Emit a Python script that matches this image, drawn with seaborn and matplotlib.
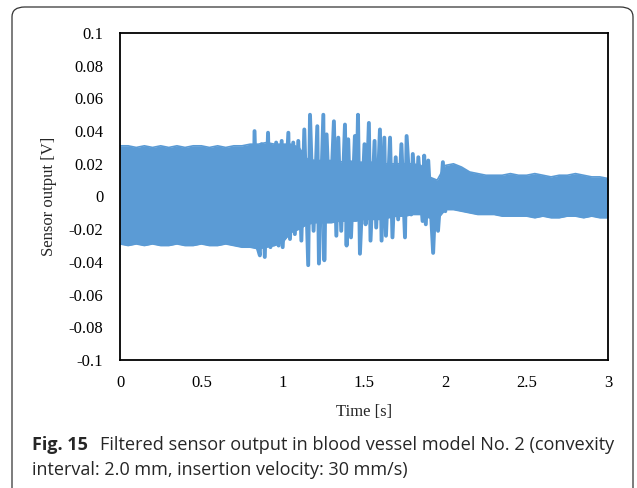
import numpy as np
import pandas as pd
import matplotlib
matplotlib.use("Agg")
import matplotlib.pyplot as plt
from matplotlib.patches import FancyBboxPatch
import seaborn as sns

# filtered sensor output
# dense oscillation band: upper / lower envelope every 0.05 s
env_t = np.round(np.arange(0, 3.0001, 0.05), 2)
env_hi = [0.031, 0.031, 0.030, 0.031, 0.030, 0.031, 0.030, 0.031, 0.030, 0.031,
          0.031, 0.030, 0.031, 0.030, 0.031, 0.031, 0.032, 0.032, 0.033, 0.032,
          0.032, 0.032, 0.030, 0.023, 0.022, 0.022, 0.022, 0.021, 0.022, 0.021,
          0.021, 0.021, 0.020, 0.020, 0.020, 0.020, 0.020, 0.019, 0.012, 0.010,
          0.019, 0.020, 0.018, 0.015, 0.014, 0.013, 0.013, 0.013, 0.014, 0.013,
          0.013, 0.014, 0.013, 0.012, 0.013, 0.013, 0.014, 0.013, 0.012, 0.012,
          0.011]
env_lo = [-0.029, -0.030, -0.029, -0.030, -0.029, -0.030, -0.030, -0.029, -0.030, -0.030,
          -0.029, -0.030, -0.030, -0.029, -0.030, -0.031, -0.031, -0.032, -0.031, -0.030,
          -0.028, -0.022, -0.020, -0.017, -0.016, -0.016, -0.016, -0.015, -0.015, -0.015,
          -0.014, -0.014, -0.014, -0.013, -0.012, -0.012, -0.011, -0.011, -0.013, -0.014,
          -0.008, -0.008, -0.009, -0.010, -0.011, -0.011, -0.011, -0.012, -0.012, -0.012,
          -0.012, -0.013, -0.012, -0.013, -0.013, -0.012, -0.012, -0.013, -0.012, -0.013,
          -0.013]

# individual peaks in the disturbed part (alternating max / min)
spike_t = [0.820, 0.827, 0.845, 0.860, 0.870, 0.890, 0.910, 0.925, 0.960, 0.975,
           0.994, 1.000, 1.035, 1.045, 1.065, 1.075, 1.096, 1.115, 1.133, 1.157,
           1.168, 1.190, 1.213, 1.223, 1.250, 1.256, 1.270, 1.290, 1.315, 1.330,
           1.342, 1.360, 1.383, 1.393, 1.403, 1.420, 1.444, 1.452, 1.463, 1.475,
           1.503, 1.510, 1.530, 1.540, 1.565, 1.575, 1.598, 1.608, 1.625, 1.635,
           1.660, 1.675, 1.695, 1.710, 1.730, 1.752, 1.762, 1.790, 1.800, 1.820,
           1.834, 1.860, 1.870, 1.880, 1.895, 1.925, 1.940, 1.955, 1.985, 2.000]
spike_v = [-0.030, 0.040, -0.031, -0.036, 0.032, -0.037, 0.039, -0.031, 0.033, -0.030,
           0.034, -0.031, 0.039, -0.026, 0.033, -0.023, 0.034, -0.027, 0.041, -0.042,
           0.050, -0.021, 0.043, -0.041, 0.050, -0.039, 0.038, -0.015, 0.046, -0.024,
           0.036, -0.021, 0.044, -0.030, 0.035, -0.025, 0.037, -0.012, 0.050, -0.035,
           0.032, -0.017, 0.045, -0.027, 0.034, -0.019, 0.041, -0.027, 0.036, -0.024,
           0.036, -0.025, 0.024, -0.014, 0.032, -0.025, 0.037, -0.011, 0.026, -0.009,
           0.024, -0.015, 0.025, -0.017, 0.022, -0.0345, 0.002, -0.021, 0.021, -0.009]

x_ticks = [0, 0.5, 1, 1.5, 2, 2.5, 3]
x_labels = ["0", "0.5", "1", "1.5", "2", "2.5", "3"]
y_ticks = [0.1, 0.08, 0.06, 0.04, 0.02, 0, -0.02, -0.04, -0.06, -0.08, -0.1]
y_labels = ["0.1", "0.08", "0.06", "0.04", "0.02", "0", "-0.02", "-0.04", "-0.06", "-0.08", "-0.1"]

BLUE = "#5B9BD5"

sns.set_style("white")
plt.rcParams["font.family"] = ["Liberation Serif", "DejaVu Serif"]

fig = plt.figure(figsize=(6.37, 4.88), dpi=100)

# rounded frame round the figure + caption
frame = FancyBboxPatch((12 / 637, -0.1), 621 / 637, 1.1 - 7 / 488,
                       boxstyle="round,pad=0,rounding_size=0.02",
                       transform=fig.transFigure, fill=False,
                       edgecolor="#333333", lw=0.9, clip_on=False)
fig.patches.append(frame)

ax = fig.add_axes([120 / 637, 1 - 360 / 488, 488 / 637, 327 / 488])

band = pd.DataFrame({"t": env_t, "hi": env_hi, "lo": env_lo})
ax.fill_between(band["t"], band["hi"], band["lo"], color=BLUE, lw=0)
sns.lineplot(data=band, x="t", y="hi", color=BLUE, lw=1.2, ax=ax)
sns.lineplot(data=band, x="t", y="lo", color=BLUE, lw=1.2, ax=ax)

spikes = pd.DataFrame({"t": spike_t, "v": spike_v})
sns.lineplot(data=spikes, x="t", y="v", estimator=None, sort=False,
             color=BLUE, lw=2.8, ax=ax)

ax.set_xlim(0, 3)
ax.set_ylim(-0.1, 0.1)
ax.set_xticks(x_ticks)
ax.set_xticklabels(x_labels)
ax.set_yticks(y_ticks)
ax.set_yticklabels(y_labels)
for s in ax.spines.values():
    s.set_color("black")
    s.set_linewidth(1.3)
ax.tick_params(axis="both", direction="in", length=4, width=1.2,
               labelsize=12, colors="black")
ax.tick_params(axis="y", pad=12)
ax.tick_params(axis="x", pad=11)
ax.set_xlabel("Time [s]", fontsize=12, labelpad=9)
ax.set_ylabel("Sensor output [V]", fontsize=12, labelpad=8)

cap_font = ["Open Sans", "DejaVu Sans"]
fig.text(32 / 637, 1 - 450 / 488, "Fig. 15", family=cap_font,
         fontweight="bold", fontsize=13, va="baseline", ha="left")
fig.text(100 / 637, 1 - 450 / 488,
         "Filtered sensor output in blood vessel model No. 2 (convexity",
         family=cap_font, fontsize=13.1, va="baseline", ha="left")
fig.text(32 / 637, 1 - 475 / 488,
         "interval: 2.0 mm, insertion velocity: 30 mm/s)",
         family=cap_font, fontsize=13, va="baseline", ha="left")

fig.savefig("out.png", dpi=100)
